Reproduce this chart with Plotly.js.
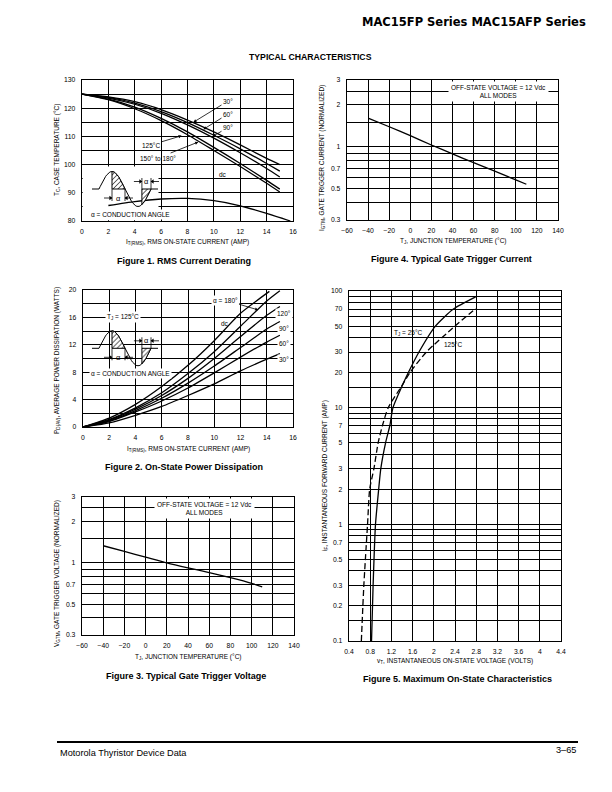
<!DOCTYPE html>
<html>
<head>
<meta charset="utf-8">
<script src="https://cdn.plot.ly/plotly-3.0.1.min.js"></script>
<style>
  html, body { margin: 0; padding: 0; background: #fff; }
  #chart { width: 612px; height: 792px; }
</style>
</head>
<body>
<div id="chart"></div>
<script>
// Figure 1. RMS current derating (case temperature vs RMS current)
const f1Current = [0, 2, 4, 6, 8, 10, 12, 14, 15];
const f1Deg30  = [125, 124, 122.3, 119.5, 115.8, 111.6, 107, 102.2, 100];
const f1Deg60  = [125, 123.8, 121.8, 118.8, 114.9, 110.4, 105.6, 100.4, 97.7];
const f1Deg90  = [125, 123.6, 121.4, 118.2, 114.1, 109.4, 104.2, 98.6, 95.6];
const f1Deg120 = [125, 123.2, 120.4, 116.4, 111.6, 106.1, 100.4, 94.4, 91.3];
const f1Deg180 = [125, 123, 119.8, 115.6, 110.6, 105, 99.3, 93.4, 90.3];
const f1DcCurrent = [2, 4, 6, 8, 10, 12, 14, 15.8];
const f1Dc = [85.5, 86.9, 87.8, 88, 87.2, 85.4, 82.7, 80];

// Figure 2. On-state power dissipation
const f2Current = [0, 2, 4, 6, 8, 10, 12, 14, 15];
const f2Deg180 = [0, 1.1, 2.8, 5.0, 7.8, 11.0, 14.7, 18.4, 19.9];
const f2Deg120 = [0, 1.0, 2.6, 4.6, 7.1, 10.0, 13.2, 16.3, 17.6];
const f2Deg90  = [0, 0.9, 2.4, 4.2, 6.4, 8.9, 11.6, 14.3, 15.4];
const f2Deg60  = [0, 0.8, 2.2, 3.8, 5.7, 7.9, 10.2, 12.4, 13.4];
const f2Deg30  = [0, 0.6, 1.7, 3.0, 4.6, 6.3, 8.2, 9.9, 10.7];
const f2DcCurrent = [0, 2, 4, 6, 8, 10, 12, 14.2];
const f2Dc = [0, 1.3, 3.3, 5.9, 9.0, 12.6, 16.6, 19.8];

// Figures 3 and 4. Gate trigger voltage / current vs junction temperature
const tempJ = [-40, -20, 0, 20, 40, 60, 80, 100, 110];
const f3Vgt = [1.33, 1.21, 1.1, 1.0, 0.92, 0.85, 0.78, 0.71, 0.67];
const f4Igt = [1.6, 1.39, 1.2, 1.03, 0.89, 0.77, 0.67, 0.58, 0.54];

// Figure 5. Maximum on-state characteristics
const f5V25  = [0.825, 0.855, 0.9, 0.96, 1.0, 1.09, 1.17, 1.23, 1.42, 1.52, 1.72, 2.03, 2.37, 2.79];
const f5I25  = [0.1, 0.3, 1, 2, 3, 5, 7, 10, 16, 20, 30, 50, 70, 89];
const f5V125 = [0.633, 0.68, 0.75, 0.79, 0.87, 0.95, 1.03, 1.14, 1.42, 1.55, 1.86, 2.4, 2.79];
const f5I125 = [0.1, 0.3, 1, 2, 3, 5, 7, 10, 16, 20, 30, 50, 70.8];

// tick labels and extra grid lines
const curTicks = [0, 2, 4, 6, 8, 10, 12, 14, 16];
const tcTicks = [80, 90, 100, 110, 120, 130];
const tcGrid = [85, 95, 105, 115, 125];
const pdTicks = [0, 4, 8, 12, 16, 20];
const pdGrid = [2, 6, 10, 14, 18];
const tjTicks = [-60, -40, -20, 0, 20, 40, 60, 80, 100, 120, 140];
const tjLabels = ['\u221260', '\u221240', '\u221220', '0', '20', '40', '60', '80', '100', '120', '140'];
const normTicks = [0.3, 0.5, 0.7, 1, 2, 3];
const normGrid = [0.4, 0.6, 0.8, 0.9, 1.5, 2.5];
const vtTicks = [0.4, 0.8, 1.2, 1.6, 2, 2.4, 2.8, 3.2, 3.6, 4, 4.4];
const ifTicks = [0.1, 0.2, 0.3, 0.5, 0.7, 1, 2, 3, 5, 7, 10, 20, 30, 50, 70, 100];
const ifGrid = [0.15, 0.4, 0.6, 0.8, 0.9, 1.5, 4, 6, 8, 9, 15, 40, 60, 80, 90];

const W = 612, H = 792;
const FONT = 'Liberation Sans, Arial, sans-serif';
const px = x => x / W;
const py = y => 1 - y / H;
const domX = (a, b) => [a / W, b / W];
const domY = (top, bottom) => [1 - bottom / H, 1 - top / H];

function axis(domain, range, vals, texts, grid, extra) {
  return Object.assign({
    domain: domain, range: range, tickmode: 'array', tickvals: vals, ticktext: texts,
    showgrid: true, gridcolor: '#000', gridwidth: 1,
    minor: {tickmode: 'array', tickvals: grid || [], showgrid: true, gridcolor: '#000', gridwidth: 1, ticks: ''},
    showline: true, mirror: true, linecolor: '#000', linewidth: 1.3,
    ticks: '', ticklabelstandoff: 4, zeroline: false, fixedrange: true,
    tickfont: {family: FONT, size: 6.8, color: '#000'}
  }, extra || {});
}

function line(x, y, xa, ya, dash) {
  return {x: x, y: y, xaxis: xa, yaxis: ya, type: 'scatter', mode: 'lines',
          line: {color: '#000', width: 1.3, dash: dash || 'solid', shape: 'spline', smoothing: 0.6},
          hoverinfo: 'skip'};
}

const data = [
  line(f1Current, f1Deg30, 'x', 'y'),
  line(f1Current, f1Deg60, 'x', 'y'),
  line(f1Current, f1Deg90, 'x', 'y'),
  line(f1Current, f1Deg120, 'x', 'y'),
  line(f1Current, f1Deg180, 'x', 'y'),
  line(f1DcCurrent, f1Dc, 'x', 'y'),
  line(f2DcCurrent, f2Dc, 'x2', 'y2'),
  line(f2Current, f2Deg180, 'x2', 'y2'),
  line(f2Current, f2Deg120, 'x2', 'y2'),
  line(f2Current, f2Deg90, 'x2', 'y2'),
  line(f2Current, f2Deg60, 'x2', 'y2'),
  line(f2Current, f2Deg30, 'x2', 'y2'),
  line(tempJ, f3Vgt, 'x3', 'y3'),
  line(tempJ, f4Igt, 'x4', 'y4'),
  line(f5V25, f5I25, 'x5', 'y5'),
  line(f5V125, f5I125, 'x5', 'y5', '6px,3px')
];

const annotations = [];
const shapes = [];

function text(t, x, y, size, opts) {
  annotations.push(Object.assign({
    text: t, x: px(x), y: py(y), xref: 'paper', yref: 'paper', showarrow: false,
    xanchor: 'center', yanchor: 'middle',
    font: {family: FONT, size: size || 6.5, color: '#000'}
  }, opts || {}));
}

function arrow(t, x, y, tipX, tipY, opts) {
  annotations.push(Object.assign({
    text: t, x: px(tipX), y: py(tipY), xref: 'paper', yref: 'paper',
    ax: x - tipX, ay: y - tipY, showarrow: true, arrowhead: 2, arrowsize: 0.8,
    arrowwidth: 0.8, arrowcolor: '#000', standoff: 0,
    font: {family: FONT, size: 6.5, color: '#000'}
  }, opts || {}));
}

// conduction angle sketch, drawn on a page-pixel axis pair (x6/y6)
function conductionSketch(baseY, withTj) {
  const x0 = 99, half = 26, amp = 17.5;
  const sx = t => x0 + t / Math.PI * half;
  const sy = t => baseY - amp * Math.sin(t);
  const wx = [92], wy = [baseY];
  for (let i = 0; i <= 48; i++) {
    const t = i / 48 * 2 * Math.PI;
    wx.push(sx(t)); wy.push(sy(t));
  }
  wx.push(sx(2 * Math.PI) + 7); wy.push(baseY);
  data.push({x: wx, y: wy, xaxis: 'x6', yaxis: 'y6', type: 'scatter', mode: 'lines',
             line: {color: '#000', width: 1}, hoverinfo: 'skip'});
  [[Math.PI / 2, Math.PI], [1.65 * Math.PI, 2 * Math.PI]].forEach(function (seg) {
    const hx = [], hy = [];
    for (let i = 0; i <= 16; i++) {
      const t = seg[0] + (seg[1] - seg[0]) * i / 16;
      hx.push(sx(t)); hy.push(sy(t));
    }
    hx.push(sx(seg[1]), sx(seg[0]), sx(seg[0]));
    hy.push(baseY, baseY, sy(seg[0]));
    data.push({x: hx, y: hy, xaxis: 'x6', yaxis: 'y6', type: 'scatter', mode: 'lines',
               fill: 'toself', fillcolor: 'rgba(0,0,0,0)',
               fillpattern: {shape: '/', fgcolor: '#000', bgcolor: '#fff', size: 3.5, solidity: 0.25},
               line: {color: '#000', width: 1}, hoverinfo: 'skip'});
  });
  // alpha dimension marks: ticks, arrow shafts and heads
  const upY = baseY - 7.5, loY = baseY + 9;
  const aN = sx(1.65 * Math.PI), bN = sx(2 * Math.PI);
  const aP = sx(Math.PI / 2), bP = sx(Math.PI);
  [[aN, baseY - 11, baseY], [bN, baseY - 11, baseY], [aP, baseY, baseY + 12], [bP, baseY, baseY + 12]]
    .forEach(function (s) {
      shapes.push({type: 'line', xref: 'x6', yref: 'y6', x0: s[0], x1: s[0], y0: s[1], y1: s[2],
                   line: {color: '#000', width: 0.8}});
    });
  const heads = {x: [], y: [], symbol: []};
  [[aN, upY, -1], [bN, upY, 1], [aP, loY, -1], [bP, loY, 1]].forEach(function (a) {
    shapes.push({type: 'line', xref: 'x6', yref: 'y6', x0: a[0] + a[2] * 8, x1: a[0], y0: a[1], y1: a[1],
                 line: {color: '#000', width: 0.8}});
    heads.x.push(a[0] + a[2] * 1.6); heads.y.push(a[1]);
    heads.symbol.push(a[2] < 0 ? 'triangle-right' : 'triangle-left');
  });
  data.push({x: heads.x, y: heads.y, xaxis: 'x6', yaxis: 'y6', type: 'scatter', mode: 'markers',
             marker: {symbol: heads.symbol, size: 4, color: '#000', line: {width: 0}}, hoverinfo: 'skip'});
  text('\u03b1', (aN + bN) / 2, upY, 7.5);
  text('\u03b1', (aP + bP) / 2, loY, 7.5);
  text('\u03b1 = CONDUCTION ANGLE', 130, baseY + 25, 6.5, {bgcolor: '#fff', borderpad: 1});
  if (withTj) text('T<sub>J</sub> = 125\u00b0C', 123, baseY - 31, 6.5, {bgcolor: '#fff', borderpad: 1});
}

// white panel behind the sketch in figure 1
shapes.push({type: 'rect', xref: 'x', yref: 'y', x0: 0.05, x1: 5.8, y0: 80.3, y1: 99.3,
             layer: 'between', fillcolor: '#fff', line: {width: 0}});

conductionSketch(189, false);
conductionSketch(348.3, true);

// page header / footer
text('MAC15FP Series MAC15AFP Series', 588, 22, 11.5,
     {xanchor: 'right', font: {family: 'DejaVu Sans, sans-serif', size: 11.5, weight: 'bold', color: '#000'}});
text('TYPICAL CHARACTERISTICS', 310, 57, 8.7, {font: {family: FONT, size: 8.7, weight: 'bold', color: '#000'}});
shapes.push({type: 'line', xref: 'paper', yref: 'paper', x0: px(57), x1: px(578), y0: py(742), y1: py(742),
             line: {color: '#000', width: 2}});
text('Motorola Thyristor Device Data', 58, 753, 9.2, {xanchor: 'left'});
text('3\u201365', 578, 750, 9.2, {xanchor: 'right'});

// captions
const cap = {family: FONT, size: 9, weight: 'bold', color: '#000'};
text('Figure 1. RMS Current Derating', 184, 261, 9, {font: cap});
text('Figure 2. On-State Power Dissipation', 184, 467, 9, {font: cap});
text('Figure 3. Typical Gate Trigger Voltage', 186, 676, 9, {font: cap});
text('Figure 4. Typical Gate Trigger Current', 451, 259, 9, {font: cap});
text('Figure 5. Maximum On-State Characteristics', 457, 679, 9, {font: cap});

// axis titles
const rot = {textangle: -90};
text('I<sub>T(RMS)</sub>, RMS ON-STATE CURRENT (AMP)', 187, 242);
text('T<sub>C</sub>, CASE TEMPERATURE (\u00b0C)', 57, 150, 6.5, rot);
text('I<sub>T(RMS)</sub>, RMS ON-STATE CURRENT (AMP)', 188, 449);
text('P<sub>D(AV)</sub>, AVERAGE POWER DISSIPATION (WATTS)', 57, 361, 6.5, rot);
text('T<sub>J</sub>, JUNCTION TEMPERATURE (\u00b0C)', 188, 657);
text('V<sub>GTM</sub>, GATE TRIGGER VOLTAGE (NORMALIZED)', 57, 574, 6.5, rot);
text('T<sub>J</sub>, JUNCTION TEMPERATURE (\u00b0C)', 453, 241);
text('I<sub>GTM</sub>, GATE TRIGGER CURRENT (NORMALIZED)', 322, 158, 6.5, rot);
text('v<sub>T</sub>, INSTANTANEOUS ON-STATE VOLTAGE (VOLTS)', 455, 661);
text('i<sub>F</sub>, INSTANTANEOUS FORWARD CURRENT (AMP)', 325, 476, 6.5, rot);

// figure 1 curve labels
arrow('30\u00b0', 228, 101, 193.3, 122.3);
arrow('60\u00b0', 228, 114, 203.3, 129.4);
arrow('90\u00b0', 228, 127.5, 212.6, 136.4);
arrow('125\u00b0C', 151, 145, 181.7, 135.7);
arrow('150\u00b0 to 180\u00b0', 158, 158, 198.3, 142);
text('dc', 223, 174);

// figure 2 curve labels
arrow('\u03b1 = 180\u00b0', 225, 300, 258.3, 310, {bgcolor: '#fff', borderpad: 1});
text('dc', 225, 323);
text('120\u00b0', 284, 314, 6.5, {bgcolor: '#fff', borderpad: 1});
text('90\u00b0', 284, 328, 6.5, {bgcolor: '#fff', borderpad: 1});
text('60\u00b0', 284, 343, 6.5, {bgcolor: '#fff', borderpad: 1});
text('30\u00b0', 284, 359, 6.5, {bgcolor: '#fff', borderpad: 1});

// figures 3, 4 test conditions
text('OFF-STATE VOLTAGE = 12 Vdc<br>ALL MODES', 205, 508, 6.5, {bgcolor: '#fff', borderpad: 2});
text('OFF-STATE VOLTAGE = 12 Vdc<br>ALL MODES', 498, 92, 6.5, {bgcolor: '#fff', borderpad: 2});

// figure 5 labels
text('T<sub>J</sub> = 25\u00b0C', 408, 333);
text('125\u00b0C', 453, 344);

const layout = {
  width: W, height: H,
  margin: {l: 0, r: 0, t: 0, b: 0},
  paper_bgcolor: '#fff', plot_bgcolor: 'rgba(0,0,0,0)',
  showlegend: false,
  font: {family: FONT, color: '#000'},
  xaxis:  axis(domX(82, 293), [0, 16], curTicks, curTicks.map(String), [], {anchor: 'y'}),
  yaxis:  axis(domY(80, 221), [80, 130], tcTicks, tcTicks.map(String), tcGrid, {anchor: 'x'}),
  xaxis2: axis(domX(83, 293), [0, 16], curTicks, curTicks.map(String), [], {anchor: 'y2'}),
  yaxis2: axis(domY(290, 427), [0, 20], pdTicks, pdTicks.map(String), pdGrid, {anchor: 'x2'}),
  xaxis3: axis(domX(82, 294), [-60, 140], tjTicks, tjLabels, [], {anchor: 'y3'}),
  yaxis3: axis(domY(497, 635), [Math.log10(0.3), Math.log10(3)], normTicks, normTicks.map(String), normGrid,
               {anchor: 'x3', type: 'log'}),
  xaxis4: axis(domX(347, 558), [-60, 140], tjTicks, tjLabels, [], {anchor: 'y4'}),
  yaxis4: axis(domY(80, 220), [Math.log10(0.3), Math.log10(3)], normTicks, normTicks.map(String), normGrid,
               {anchor: 'x4', type: 'log'}),
  xaxis5: axis(domX(349, 561), [0.4, 4.4], vtTicks, vtTicks.map(String), [], {anchor: 'y5'}),
  yaxis5: axis(domY(291, 641), [-1, 2], ifTicks, ifTicks.map(String), ifGrid, {anchor: 'x5', type: 'log'}),
  xaxis6: {domain: [0, 1], range: [0, W], visible: false, fixedrange: true, anchor: 'y6'},
  yaxis6: {domain: [0, 1], range: [H, 0], visible: false, fixedrange: true, anchor: 'x6'},
  annotations: annotations,
  shapes: shapes
};

Plotly.newPlot('chart', data, layout, {staticPlot: true, displayModeBar: false});
</script>
</body>
</html>
